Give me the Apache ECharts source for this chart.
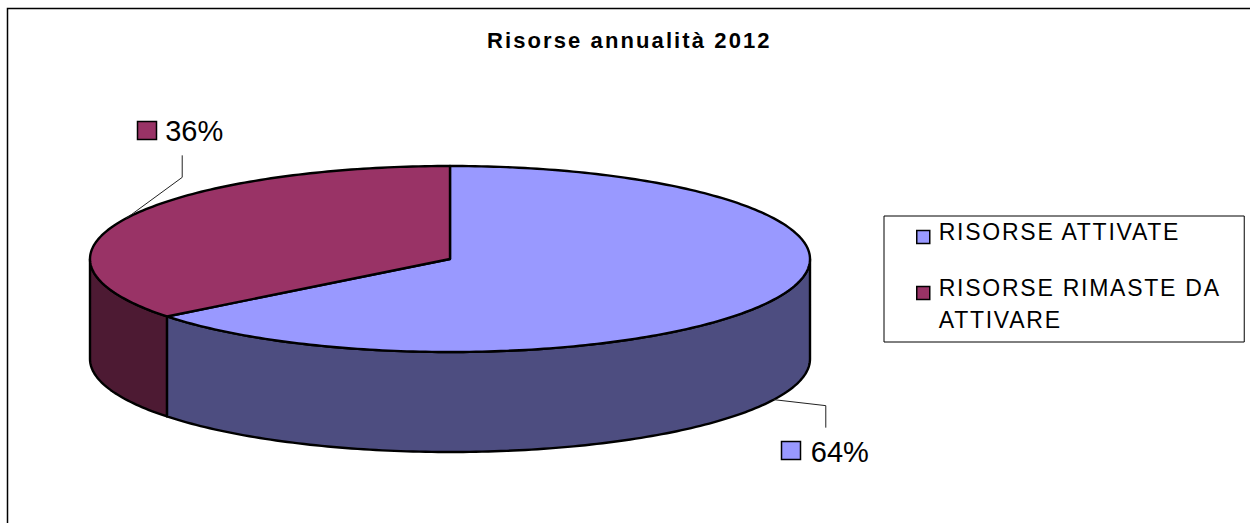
<!DOCTYPE html>
<html><head><meta charset="utf-8">
<style>
html,body{margin:0;padding:0;background:#fff}
#c{width:1250px;height:523px}
#c svg text[style*="bold"]{letter-spacing:2.1px}
#c svg text[style*="23px"]{letter-spacing:1.75px;translate:0 -5px}
</style>
<script src="https://cdn.jsdelivr.net/npm/echarts@6/dist/echarts.min.js"></script>
</head><body><div id="c"></div>
<script>
const titleText = 'Risorse annualità 2012';
const categories = ['RISORSE ATTIVATE', 'RISORSE RIMASTE DA ATTIVARE'];
const values = [64.4, 35.6];
const topColors = ['#9999FF', '#993366'];
const sideColors = ['#4D4D80', '#4D1A33'];
const FONT = '"Liberation Sans", Arial, sans-serif';

const cx = 450, cy = 259, rx = 360, ry = 93, depth = 100;
const total = values.reduce((a, b) => a + b, 0);
const pt = (deg, dy) => {
  const t = deg * Math.PI / 180;
  return [cx + rx * Math.sin(t), cy - ry * Math.cos(t) + (dy || 0)];
};
const arc = (a, b, dy) => {
  const n = Math.max(2, Math.ceil(Math.abs(b - a)));
  const out = [];
  for (let i = 0; i <= n; i++) out.push(pt(a + (b - a) * i / n, dy));
  return out;
};
// Label layout per slice: elbow offset from anchor, then end of leader, swatch and text
const calloutLayout = [
  { anchorDy: depth, elbow: [52, 6], end: [52, 28], swatch: [7, 41], text: [37, 52] },
  { anchorDy: 0, elbow: [56, -41], end: [56, -63], swatch: [11, -97], text: [39, -87] }
];
const lineStyle = { stroke: '#000', lineWidth: 2.4, lineJoin: 'round' };

function makeRender(idx) {
  return function () {
    const start = values.slice(0, idx).reduce((a, b) => a + b, 0) / total * 360;
    const end = start + values[idx] / total * 360;
    const mid = (start + end) / 2;
    const children = [];
    const a = Math.max(start, 90), b = Math.min(end, 270);
    if (b > a) {
      const pts = arc(a, b, 0).concat(arc(b, a, depth));
      children.push({ type: 'polygon', shape: { points: pts },
        style: { fill: sideColors[idx], ...lineStyle } });
    }
    children.push({ type: 'polygon', shape: { points: [[cx, cy]].concat(arc(start, end, 0)) },
      style: { fill: topColors[idx], ...lineStyle } });
    const L = calloutLayout[idx];
    const p = pt(mid, L.anchorDy);
    children.push({ type: 'polyline',
      shape: { points: [p, [p[0] + L.elbow[0], p[1] + L.elbow[1]], [p[0] + L.end[0], p[1] + L.end[1]]] },
      style: { stroke: '#222', lineWidth: 1, fill: null } });
    children.push({ type: 'rect',
      shape: { x: Math.round(p[0] + L.swatch[0]) + .5, y: Math.round(p[1] + L.swatch[1]) + .5, width: 19, height: 18 },
      style: { fill: topColors[idx], stroke: '#000', lineWidth: 1.5 } });
    children.push({ type: 'text',
      style: { x: p[0] + L.text[0], y: p[1] + L.text[1], text: Math.round(values[idx] / total * 100) + '%',
        fill: '#000', font: '29px ' + FONT, textAlign: 'left', textVerticalAlign: 'middle' } });
    return { type: 'group', children };
  };
}

const chart = echarts.init(document.getElementById('c'), null, { renderer: 'svg' });
chart.setOption({
  animation: false,
  backgroundColor: '#fff',
  title: { text: titleText, left: 487, top: 29, padding: 0,
    textStyle: { fontFamily: FONT, fontWeight: 'bold', fontSize: 22, color: '#000' } },
  legend: {
    left: 884, top: 216, orient: 'vertical', align: 'left',
    padding: [-0.5, 55, -4.5, 32], itemGap: -19, itemWidth: 13, itemHeight: 13,
    borderColor: '#000', borderWidth: 1, backgroundColor: '#fff',
    selectedMode: false, icon: 'rect',
    data: categories.map((n, i) => ({ name: n, icon: 'rect',
      itemStyle: { color: topColors[i], borderColor: '#000', borderWidth: 1.5 } })),
    formatter: n => n === categories[1] ? '\nRISORSE RIMASTE DA\nATTIVARE' : n,
    textStyle: { fontFamily: FONT, fontSize: 23, lineHeight: 32, color: '#000', padding: [0, 0, 11, 4] }
  },
  graphic: [
    { type: 'polyline', silent: true, z: 0,
      shape: { points: [[7.5, 523], [7.5, 8.5], [1250, 8.5]] },
      style: { stroke: '#000', lineWidth: 1.5, fill: null } }
  ],
  series: categories.map((n, i) => ({
    type: 'custom', name: n, coordinateSystem: 'none', silent: true,
    itemStyle: { color: topColors[i] },
    data: [[values[i]]],
    renderItem: makeRender(i)
  }))
});
</script></body></html>
